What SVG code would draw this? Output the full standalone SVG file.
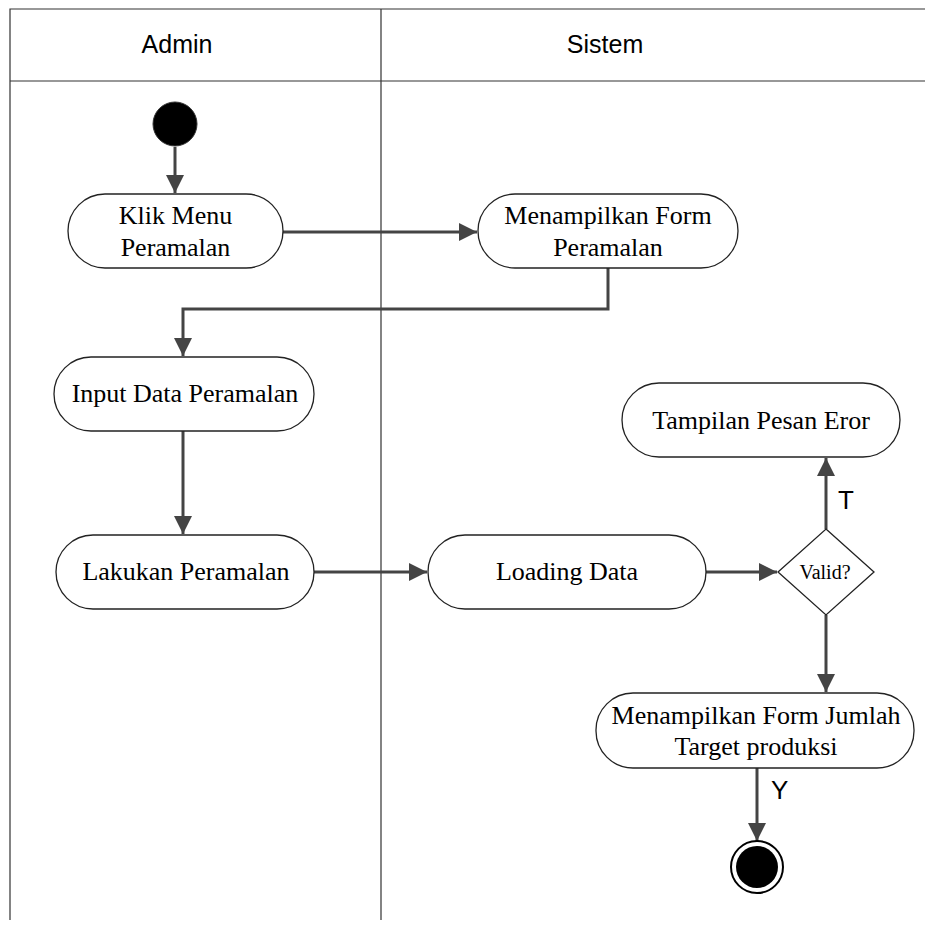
<svg xmlns="http://www.w3.org/2000/svg" width="925" height="926" viewBox="0 0 925 926">
  <style>
    .lane { fill: none; stroke: #333; stroke-width: 1.2; }
    .act { fill: #fff; stroke: #222; stroke-width: 1.3; }
    .lbl { font-family: "Liberation Serif", "Times New Roman", serif; font-size: 26px; fill: #000; text-anchor: middle; }
    .hdr { font-family: "Liberation Sans", Arial, sans-serif; font-size: 25px; fill: #000; text-anchor: middle; }
    .guard { font-family: "Liberation Sans", Arial, sans-serif; font-size: 26px; fill: #000; }
    .flow { fill: none; stroke: #444; stroke-width: 3; marker-end: url(#arrow); }
  </style>
  <defs>
    <marker id="arrow" viewBox="0 0 10 10" refX="10" refY="5" markerWidth="6" markerHeight="6" markerUnits="strokeWidth" orient="auto">
      <path d="M0,0 L10,5 L0,10 z" fill="#444"/>
    </marker>
  </defs>
  <rect width="925" height="926" fill="#fff"/>

  <!-- swimlanes -->
  <g id="lanes">
    <path class="lane" d="M10,920 V9 H925 M10,81 H925 M381,9 V920"/>
    <text class="hdr" x="177" y="53">Admin</text>
    <text class="hdr" x="605" y="53">Sistem</text>
  </g>

  <!-- connectors -->
  <g id="connectors">
    <path class="flow" d="M175,147 V193"/>
    <path class="flow" d="M283,232 H477"/>
    <path class="flow" d="M608,268 V309 H183 V356"/>
    <path class="flow" d="M183,431 V534"/>
    <path class="flow" d="M314,572 H427"/>
    <path class="flow" d="M706,572 H777"/>
    <path class="flow" d="M826,529 V458"/>
    <path class="flow" d="M826,615 V692"/>
    <path class="flow" d="M757,768 V841"/>
    <text class="guard" x="838" y="509">T</text>
    <text class="guard" x="771" y="799">Y</text>
  </g>

  <g id="start">
    <circle cx="175" cy="124" r="22" fill="#000" stroke="#333" stroke-width="1"/>
  </g>

  <g id="klik-menu">
    <rect class="act" x="68" y="194" width="215" height="74" rx="37"/>
    <text class="lbl" x="175.5" y="224">Klik Menu</text>
    <text class="lbl" x="175.5" y="256">Peramalan</text>
  </g>

  <g id="form-peramalan">
    <rect class="act" x="478" y="194" width="260" height="74" rx="37"/>
    <text class="lbl" x="608" y="224">Menampilkan Form</text>
    <text class="lbl" x="608" y="256">Peramalan</text>
  </g>

  <g id="input-data">
    <rect class="act" x="54" y="357" width="260" height="74" rx="37"/>
    <text class="lbl" x="185" y="402">Input Data Peramalan</text>
  </g>

  <g id="lakukan">
    <rect class="act" x="56" y="535" width="258" height="74" rx="37"/>
    <text class="lbl" x="186" y="580">Lakukan Peramalan</text>
  </g>

  <g id="loading">
    <rect class="act" x="428" y="535" width="278" height="74" rx="37"/>
    <text class="lbl" x="567" y="580">Loading Data</text>
  </g>

  <g id="valid">
    <path class="act" d="M826,529 L874,572 L826,615 L778,572 Z"/>
    <text class="lbl" x="825" y="579" style="font-size:20px">Valid?</text>
  </g>

  <g id="pesan-eror">
    <rect class="act" x="622" y="383" width="278" height="74" rx="37"/>
    <text class="lbl" x="761" y="429">Tampilan Pesan Eror</text>
  </g>

  <g id="form-jumlah">
    <rect class="act" x="596" y="693" width="318" height="75" rx="37"/>
    <text class="lbl" x="756" y="724">Menampilkan Form Jumlah</text>
    <text class="lbl" x="756" y="755">Target produksi</text>
  </g>

  <g id="end">
    <circle cx="757" cy="867" r="26" fill="#fff" stroke="#000" stroke-width="2"/>
    <circle cx="757" cy="867" r="21" fill="#000"/>
  </g>
</svg>
